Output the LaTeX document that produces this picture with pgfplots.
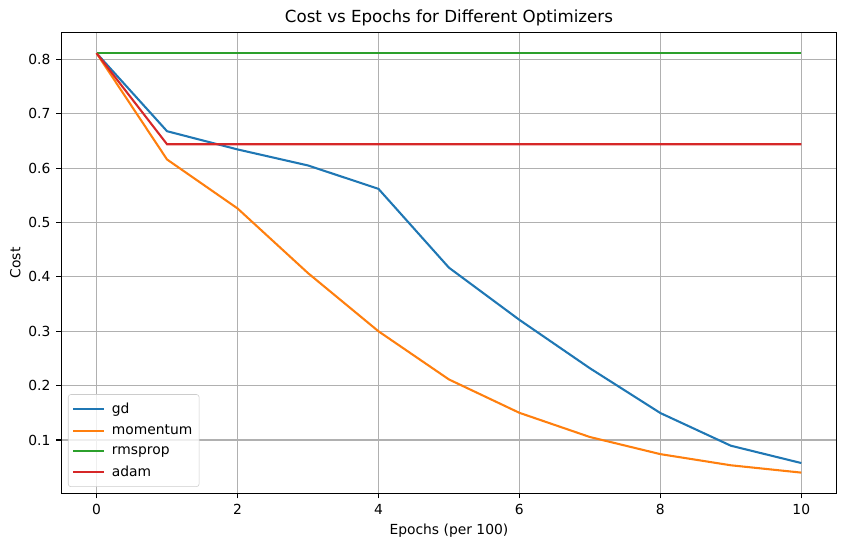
\documentclass[border=0pt]{standalone}
\usepackage{fontspec}
\setmainfont{DejaVu Sans}
\usepackage{pgfplots}
\pgfplotsset{compat=1.18}
\definecolor{c0}{HTML}{1F77B4}
\definecolor{c1}{HTML}{FF7F0E}
\definecolor{c2}{HTML}{2CA02C}
\definecolor{c3}{HTML}{D62728}
\definecolor{gridc}{HTML}{B0B0B0}
\begin{document}
\begin{tikzpicture}
\useasboundingbox (-46pt,-40pt) rectangle (588.5pt,370.2pt);
\begin{axis}[
  at={(0,0)}, anchor=south west,
  width=581.4pt, height=346pt, scale only axis,
  xmin=-0.5, xmax=10.5, ymin=0.0014, ymax=0.85,
  xtick={0,2,4,6,8,10},
  ytick={0.1,0.2,0.3,0.4,0.5,0.6,0.7,0.8},
  yticklabel style={/pgf/number format/fixed, /pgf/number format/fixed zerofill, /pgf/number format/precision=1, xshift=-1pt},
  /pgf/number format/assume math mode=true,
  tick align=outside, major tick length=3.65pt,
  tick style={black, line width=0.83pt},
  xtick pos=bottom, ytick pos=left,
  grid=major,
  major grid style={gridc, line width=0.83pt},
  axis line style={line width=0.83pt},
  tick label style={font=\fontsize{10.4}{12}\selectfont},
  xticklabel style={yshift=-1pt},
  title={Cost vs Epochs for Different Optimizers},
  title style={font=\fontsize{12.5}{14}\selectfont, yshift=-5pt},
  xlabel={Epochs (per 100)},
  ylabel={Cost},
  ylabel style={yshift=-1pt},
  label style={font=\fontsize{10.4}{12}\selectfont},
  legend style={at={(rel axis cs:0,0)}, anchor=south west, xshift=5pt, yshift=5pt,
    draw=black!20, rounded corners=2pt, fill=white, fill opacity=0.8, text opacity=1,
    font=\fontsize{10.4}{12}\selectfont, row sep=3.4pt, inner sep=3pt, inner ysep=4pt},
  legend cell align=left,
  legend image code/.code={\draw[#1] (0cm,0cm) -- (0.8cm,0cm); \path (0.92cm,0cm);},
]
\addplot[c0, line width=1.56pt] coordinates {(0,0.8115) (1,0.668) (2,0.6345) (3,0.605) (4,0.562) (5,0.417) (6,0.321) (7,0.232) (8,0.1496) (9,0.0895) (10,0.0576)};
\addplot[c1, line width=1.56pt] coordinates {(0,0.8115) (1,0.616) (2,0.526) (3,0.407) (4,0.300) (5,0.2114) (6,0.150) (7,0.1055) (8,0.074) (9,0.0535) (10,0.040)};
\addplot[c2, line width=1.56pt] coordinates {(0,0.8115) (1,0.8115) (2,0.8115) (3,0.8115) (4,0.8115) (5,0.8115) (6,0.8115) (7,0.8115) (8,0.8115) (9,0.8115) (10,0.8115)};
\addplot[c3, line width=1.56pt] coordinates {(0,0.8115) (1,0.644) (2,0.644) (3,0.644) (4,0.644) (5,0.644) (6,0.644) (7,0.644) (8,0.644) (9,0.644) (10,0.644)};
\legend{gd,momentum,rmsprop,adam}
\end{axis}
\end{tikzpicture}
\end{document}
